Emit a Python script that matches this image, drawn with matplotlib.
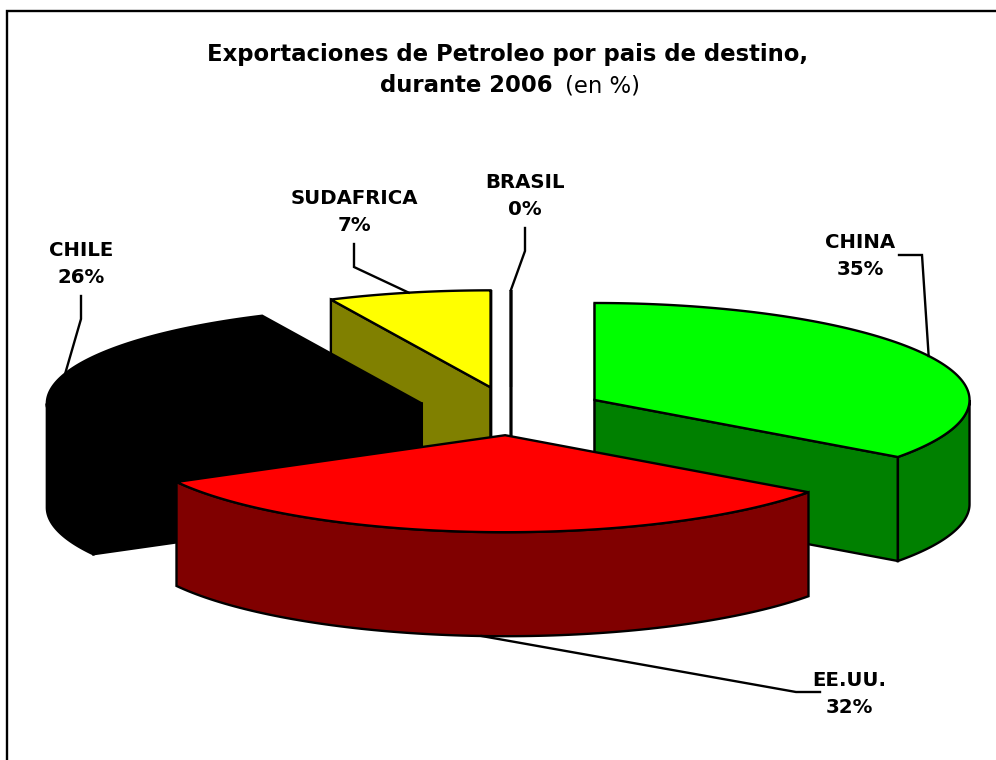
import numpy as np
import matplotlib
matplotlib.use("Agg")
import matplotlib.pyplot as plt
from matplotlib.patches import Polygon, Rectangle

# Chart data
paises = ["BRASIL", "CHINA", "EE.UU.", "CHILE", "SUDAFRICA"]
valores = [0, 35, 32, 26, 7]
color_top = ["#FFFFFF", "#00FF00", "#FF0000", "#000000", "#FFFF00"]
color_side = ["#808080", "#008000", "#800000", "#000000", "#808000"]

# label layout: centre of the text block and elbow of the leader line
label_x = [525, 860, 849, 81, 354]
label_y = [196, 256, 694, 264, 212]
leader_elbow = [[(525, 251), (525, 228)], [(922, 255), (899, 255)], [(796, 692), (820, 692)],
                [(81, 319), (81, 296)], [(354, 267), (354, 244)]]
draw_order = [0, 4, 3, 1, 2]

# pie geometry in pixels
cx, cy = 511, 411
rx, ry = 375, 97
depth = 104
explode = 0.25
FONT = "DejaVu Sans"
LW = 1.7


def rim(ax0, ay0, deg):
    t = np.radians(deg)
    return ax0 + rx * np.sin(t), ay0 - ry * np.cos(t)


def draw_slice(ax, start, end, top, side):
    mid = (start + end) / 2
    ox, oy = rim(0, 0, mid)
    ax0, ay0 = cx + explode * ox, cy + explode * oy

    # cut walls, only the ones facing the viewer
    for deg, normal in [(start, start - 90), (end, end + 90)]:
        if np.cos(np.radians(normal - 180)) >= -1e-9:
            x1, y1 = rim(ax0, ay0, deg)
            pts = [(ax0, ay0), (x1, y1), (x1, y1 + depth), (ax0, ay0 + depth)]
            ax.add_patch(Polygon(pts, closed=True, fc=side, ec="black", lw=LW, joinstyle="miter"))

    # outer face
    a, b = max(start, 90), min(end, 270)
    if b > a:
        t = np.linspace(a, b, 100)
        xs, ys = rim(ax0, ay0, t)
        pts = np.vstack([np.column_stack([xs, ys]), np.column_stack([xs, ys + depth])[::-1]])
        ax.add_patch(Polygon(pts, closed=True, fc=side, ec="black", lw=LW, joinstyle="miter"))

    # top face
    t = np.linspace(start, end, 150)
    xs, ys = rim(ax0, ay0, t)
    pts = np.vstack([[ax0, ay0], np.column_stack([xs, ys])])
    ax.add_patch(Polygon(pts, closed=True, fc=top, ec="black", lw=LW, joinstyle="miter"))
    return ax0, ay0, mid


fig = plt.figure(figsize=(9.96, 7.6), dpi=100)
ax = fig.add_axes([0, 0, 1, 1])
ax.set_xlim(0, 996)
ax.set_ylim(760, 0)
ax.axis("off")

# frame runs off the right and bottom of the picture
ax.add_patch(Rectangle((7, 11), 1200, 1000, fc="white", ec="black", lw=1.7))

# slice angles from the values, clockwise from the top
ends = np.cumsum(valores) / sum(valores) * 360
starts = np.concatenate([[0], ends[:-1]])
starts[0] = ends[0] = 360  # the empty slice sits at the top, after SUDAFRICA

for i in draw_order:
    ax0, ay0, mid = draw_slice(ax, starts[i], ends[i], color_top[i], color_side[i])
    x0, y0 = rim(ax0, ay0, mid)
    if 90 < mid < 270:
        y0 += depth
    line = [(x0, y0)] + leader_elbow[i]
    ax.plot(*zip(*line), color="black", lw=LW, solid_joinstyle="miter", zorder=6)

for i, name in enumerate(paises):
    ax.text(label_x[i], label_y[i], f"{name}\n{valores[i]}%", ha="center", va="center",
            fontsize=14.2, fontweight="bold", family=FONT, linespacing=1.55, zorder=7)

ax.text(507.5, 54, "Exportaciones de Petroleo por pais de destino,", ha="center", va="center",
        fontsize=16.4, fontweight="bold", family=FONT)
ax.text(553, 86, "durante 2006", ha="right", va="center", fontsize=16.4, fontweight="bold", family=FONT)
ax.text(565, 86, "(en %)", ha="left", va="center", fontsize=16.4, family=FONT)

fig.savefig("out.png", dpi=100)
